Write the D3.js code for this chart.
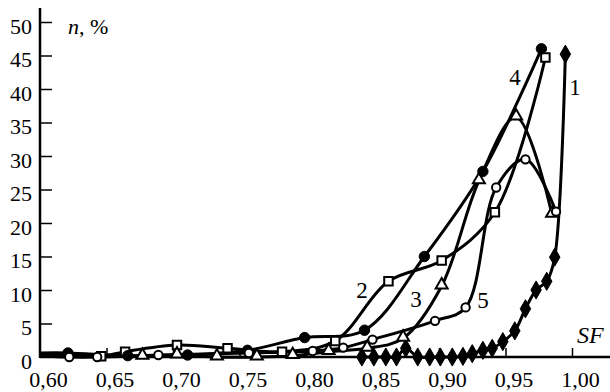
<!DOCTYPE html>
<html>
<head>
<meta charset="utf-8">
<script src="https://cdn.jsdelivr.net/npm/d3@7"></script>
<style>
    body { margin: 0; background: #fff; }
    svg { display: block; }
    svg text { font-family: 'Liberation Serif', 'DejaVu Serif', serif !important; fill: #000; }
</style>
</head>
<body>
<svg id="chart"></svg>
<script>
const width = 610;
const height = 392;

// SF values and n, % for each curve
const sf1 = [0.842, 0.851, 0.860, 0.868, 0.875, 0.884, 0.893, 0.901, 0.910, 0.918, 0.925, 0.933, 0.940, 0.948, 0.957, 0.965, 0.973, 0.981, 0.987, 0.995];
const n1  = [0, 0, 0, 0, 1.3, 0, 0, 0, 0, 0.1, 0.5, 1.0, 1.3, 2.3, 3.9, 7.2, 10.0, 11.3, 14.9, 45.2];

const sf2 = [0.60, 0.646, 0.664, 0.703, 0.741, 0.782, 0.822, 0.862, 0.902, 0.942, 0.980];
const n2  = [0.5, 0.1, 0.8, 1.8, 1.3, 0.8, 2.4, 11.3, 14.4, 21.6, 44.7];

const sf3 = [0.60, 0.677, 0.703, 0.733, 0.763, 0.790, 0.817, 0.846, 0.873, 0.902, 0.930, 0.958, 0.985];
const n3  = [0.3, 0.1, 0.3, 0, 0, 0.2, 0.8, 1.3, 2.8, 10.6, 26.3, 35.8, 21.3];

const sf4 = [0.60, 0.621, 0.666, 0.711, 0.756, 0.799, 0.844, 0.889, 0.933, 0.977];
const n4  = [0.6, 0.6, 0.2, 0.3, 1.0, 2.9, 4.0, 15.0, 27.7, 46.0];

const sf5 = [0.60, 0.622, 0.643, 0.689, 0.757, 0.805, 0.828, 0.850, 0.897, 0.920, 0.943, 0.965, 0.988];
const n5  = [0.2, 0, 0, 0.3, 0.6, 0.9, 1.4, 2.6, 5.4, 7.4, 25.3, 29.5, 21.7];

const xTicks = [0.60, 0.65, 0.70, 0.75, 0.80, 0.85, 0.90, 0.95, 1.00];
const yTicks = [0, 5, 10, 15, 20, 25, 30, 35, 40, 45, 50];

const series = [
    { name: '1', sf: sf1, n: n1, marker: 'diamond', label: [575, 95] },
    { name: '2', sf: sf2, n: n2, marker: 'square', label: [362, 298] },
    { name: '3', sf: sf3, n: n3, marker: 'triangle', label: [416, 307] },
    { name: '4', sf: sf4, n: n4, marker: 'dot', label: [515, 85] },
    { name: '5', sf: sf5, n: n5, marker: 'circle', label: [483, 308] },
];

const x = d3.scaleLinear().domain([0.6, 1.0]).range([40, 572]);
const y = d3.scaleLinear().domain([0, 50]).range([357, 22]);

const svg = d3.select('#chart')
    .attr('width', width)
    .attr('height', height);

const comma = d => d3.format('.2f')(d).replace('.', ',');

// axes
const yAxis = svg.append('g')
    .attr('transform', `translate(${x(0.6)},0)`)
    .call(d3.axisLeft(y).tickValues(yTicks).tickSizeInner(-12).tickSizeOuter(0).tickPadding(8));
yAxis.select('.domain').remove();
yAxis.selectAll('.tick line').attr('stroke-width', 1.5).filter(d => d === 0).remove();
yAxis.selectAll('.tick text').style('font-size', '22px').attr('dy', '0.5em');

const xAxis = svg.append('g')
    .attr('transform', `translate(0,${y(0)})`)
    .call(d3.axisBottom(x).tickValues(xTicks).tickFormat(comma).tickSizeInner(-9).tickSizeOuter(0).tickPadding(14));
xAxis.select('.domain').remove();
xAxis.selectAll('.tick line').attr('stroke-width', 1.5).filter(d => d === 0.6).remove();
xAxis.selectAll('.tick text').style('font-size', '22px').attr('dx', 8);

svg.append('line')
    .attr('x1', x(0.6)).attr('x2', x(0.6))
    .attr('y1', y(0) + 1).attr('y2', 8)
    .attr('stroke', '#000').attr('stroke-width', 2.5);
svg.append('line')
    .attr('x1', x(0.6)).attr('x2', width)
    .attr('y1', y(0)).attr('y2', y(0))
    .attr('stroke', '#000').attr('stroke-width', 2.5);

// lines
const line = d3.line()
    .x(d => x(d[0]))
    .y(d => y(d[1]))
    .curve(d3.curveCatmullRom.alpha(0.5));

series.forEach(s => {
    s.points = s.sf.map((v, i) => [v, s.n[i]]);
});

svg.append('g')
    .selectAll('path')
    .data(series)
    .enter().append('path')
    .attr('d', d => line(d.points))
    .attr('fill', 'none')
    .attr('stroke', '#000')
    .attr('stroke-width', 3)
    .attr('stroke-linejoin', 'round');

// markers
const shapes = {
    diamond: d3.symbol(d3.symbolDiamond, 95),
    square: d3.symbol(d3.symbolSquare, 72),
    triangle: d3.symbol(d3.symbolTriangle, 62),
    dot: d3.symbol(d3.symbolCircle, 85),
    circle: d3.symbol(d3.symbolCircle, 55),
};

series.forEach(s => {
    const filled = s.marker === 'diamond' || s.marker === 'dot';
    svg.append('g')
        .selectAll('path')
        .data(s.points.filter(p => p[0] > 0.6))
        .enter().append('path')
        .attr('transform', d => `translate(${x(d[0])},${y(d[1]) - (s.marker === 'triangle' ? 1 : 0)})`)
        .attr('d', shapes[s.marker]())
        .attr('fill', filled ? '#000' : '#fff')
        .attr('stroke', '#000')
        .attr('stroke-width', filled ? 1 : 2);
});

// curve labels
svg.append('g')
    .selectAll('text')
    .data(series)
    .enter().append('text')
    .attr('x', d => d.label[0])
    .attr('y', d => d.label[1])
    .attr('text-anchor', 'middle')
    .style('font-size', '23px')
    .text(d => d.name);

// axis titles
const yTitle = svg.append('text')
    .attr('x', 68)
    .attr('y', 34)
    .style('font-size', '22px');
yTitle.append('tspan').attr('font-style', 'italic').text('n');
yTitle.append('tspan').text(', %');

svg.append('text')
    .attr('x', 577)
    .attr('y', 343)
    .style('font-size', '24px')
    .attr('font-style', 'italic')
    .text('SF');
</script>
</body>
</html>
